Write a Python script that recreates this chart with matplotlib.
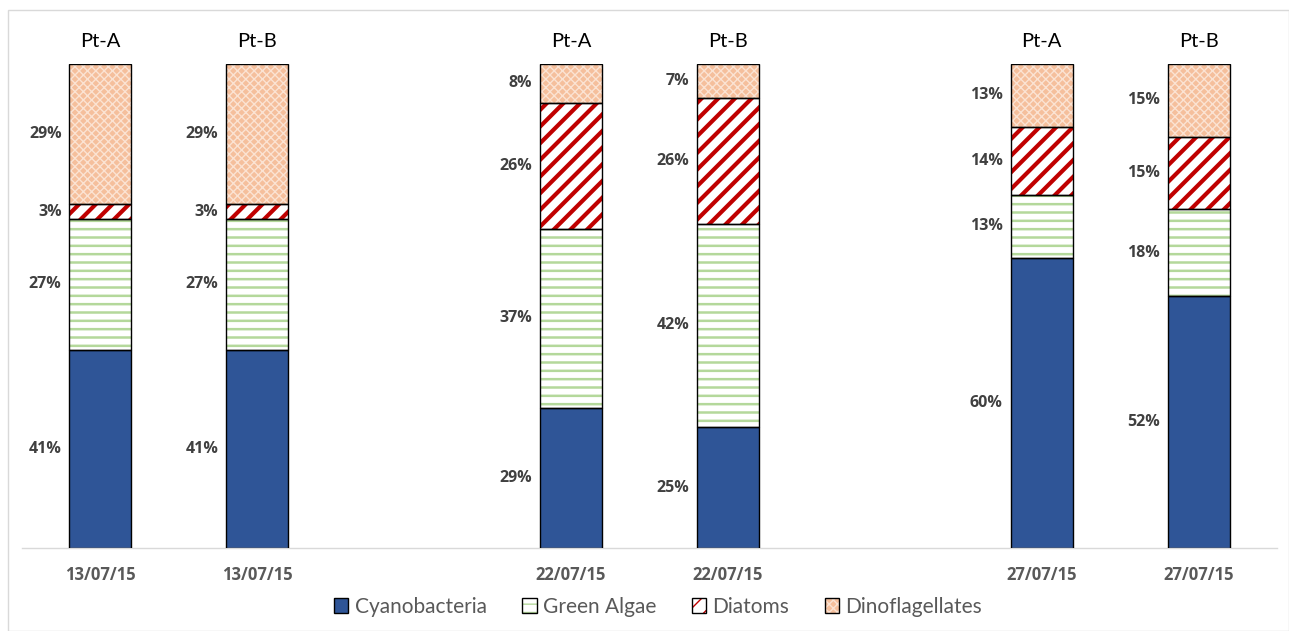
import matplotlib
matplotlib.use("Agg")
import matplotlib.pyplot as plt
from matplotlib.patches import Patch, Rectangle
from matplotlib.legend_handler import HandlerTuple

plt.rcParams['font.family'] = ['Lato', 'DejaVu Sans']
BOLD = ['Open Sans', 'DejaVu Sans']

dates = ["13/07/15", "13/07/15", "22/07/15", "22/07/15", "27/07/15", "27/07/15"]
points = ["Pt-A", "Pt-B", "Pt-A", "Pt-B", "Pt-A", "Pt-B"]
slots = [0, 1, 3, 4, 6, 7]
series = ["Cyanobacteria", "Green Algae", "Diatoms", "Dinoflagellates"]
cyano = [41, 41, 29, 25, 60, 52]
green = [27, 27, 37, 42, 13, 18]
diatoms = [3, 3, 26, 26, 14, 15]
dino = [29, 29, 8, 7, 13, 15]

styles = [
    dict(face="#2F5597", hatch=None, hcolor="#2F5597", hlw=1.0),
    dict(face="white", hatch="--", hcolor="#B4D89B", hlw=1.8),
    dict(face="white", hatch="//", hcolor="#C00000", hlw=3.0),
    dict(face="#F5BF9C", hatch="xxxx", hcolor="#FBE3D3", hlw=1.0),
]

fig = plt.figure(figsize=(12.89, 6.31), dpi=100)
ax = fig.add_axes([22/1289, 83/631, (1277-22)/1289, (548-64)/631])
W = 62/157
values = [cyano, green, diatoms, dino]
bottom = [0]*6
for vals, st in zip(values, styles):
    for i in range(6):
        with plt.rc_context({'hatch.linewidth': st['hlw']}):
            b = ax.bar(slots[i], vals[i], W, bottom=bottom[i], color=st['face'],
                       edgecolor=st['hcolor'], hatch=st['hatch'], linewidth=0, zorder=2)
            for p in b:
                if hasattr(p, 'set_hatch_linewidth'):
                    p.set_hatch_linewidth(st['hlw'])
        ax.bar(slots[i], vals[i], W, bottom=bottom[i], fill=False,
               edgecolor="black", linewidth=1.0, zorder=3)
        ax.text(slots[i] - W/2 - 0.05, bottom[i] + vals[i]/2, f"{vals[i]}%",
                ha="right", va="center", fontsize=11.5, fontweight="bold", color="#404040",
                family=BOLD)
        bottom[i] += vals[i]

for i in range(6):
    ax.text(slots[i], 102.8, points[i], ha="center", va="bottom", fontsize=14.5, color="black")

ax.set_xlim(-0.5, 7.5)
ax.set_ylim(0, 100)
ax.set_xticks(slots)
ax.set_xticklabels(dates, fontsize=12, fontweight="bold", color="#595959", family=BOLD)
ax.tick_params(axis='x', length=0, pad=13)
ax.set_yticks([])
for s in ["top", "right", "left"]:
    ax.spines[s].set_visible(False)
ax.spines["bottom"].set_color("#D9D9D9")
ax.spines["bottom"].set_linewidth(1.0)

handles = []
for st in styles:
    with plt.rc_context({'hatch.linewidth': st['hlw']}):
        h1 = Patch(facecolor=st['face'], edgecolor=st['hcolor'], hatch=st['hatch'], linewidth=0)
        if hasattr(h1, 'set_hatch_linewidth'):
            h1.set_hatch_linewidth(st['hlw'])
    h2 = Patch(facecolor="none", edgecolor="black", linewidth=1.0)
    handles.append((h1, h2))
fig.legend(handles, series, loc="center", bbox_to_anchor=(658/1289, 1 - 607/631),
           ncol=4, frameon=False, fontsize=15, labelcolor="#595959",
           handler_map={tuple: HandlerTuple(ndivide=1, pad=0)},
           handlelength=0.7, handleheight=0.7, handletextpad=0.3, columnspacing=1.7)

fig.patches.append(Rectangle((8/1289, 0), (1289-8)/1289, 1 - 10/631, transform=fig.transFigure,
                             fill=False, edgecolor="#D9D9D9", linewidth=1.0))

fig.savefig("out.png", dpi=100, facecolor="white")
